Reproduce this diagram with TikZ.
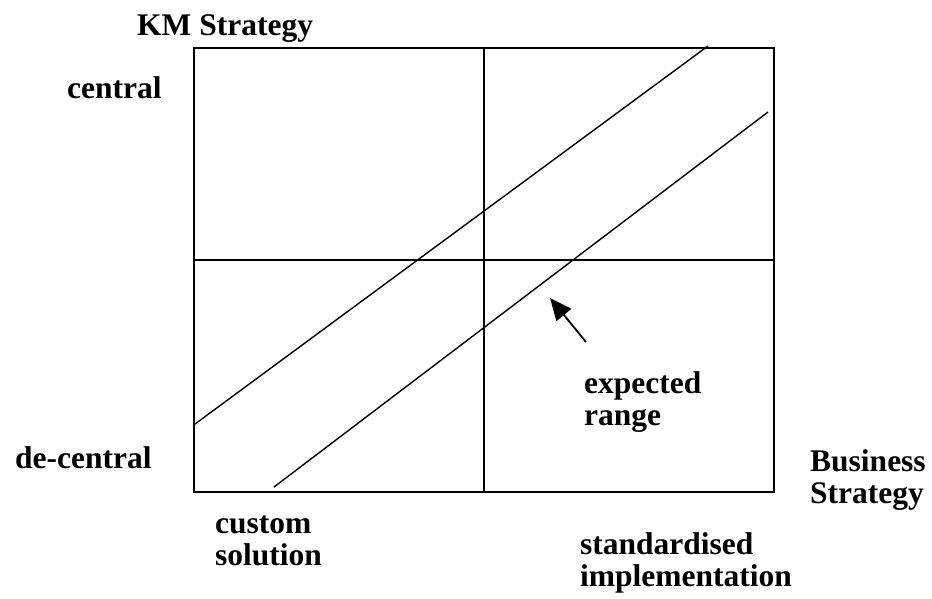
\documentclass[tikz,border=0pt]{standalone}
\usepackage{fontspec}
\setmainfont{Liberation Serif}
\usetikzlibrary{arrows.meta,positioning}

\begin{document}
\begin{tikzpicture}[x=1pt,y=-1pt,
	lbl/.style={font=\bfseries\fontsize{31.5}{32}\selectfont, inner sep=0pt, anchor=base west, align=left},
	frame/.style={line width=1.7pt},
	band/.style={line width=1.4pt}]
	\useasboundingbox (0,0) rectangle (932,599);
	
	% quadrant box and cross
	\coordinate (bl) at (194,492);
	\coordinate (tr) at (774,48);
	\draw [frame] (bl) rectangle (tr);
	\coordinate (vtop) at (484,48);
	\coordinate (vbot) at (484,492);
	\coordinate (hleft) at (194,260);
	\coordinate (hright) at (774,260);
	\draw [frame] (vtop) -- (vbot);
	\draw [frame] (hleft) -- (hright);
	
	% expected range band
	\coordinate (up1) at (195,424);
	\coordinate (up2) at (708,46);
	\coordinate (lo1) at (274,487);
	\coordinate (lo2) at (768,112);
	\draw [band] (up1) -- (up2);
	\draw [band] (lo1) -- (lo2);
	
	% % % % % % % % % % % % % % % % % % % % % % % % % %
	
	\node [lbl] (km) at (137,36) {KM Strategy};
	\node [lbl] (central) at (67,99) {central};
	\node [lbl] (decentral) at (15,468) {de-central};
	\node [lbl] (business) at (810,503) {Business\\Strategy};
	\node [lbl] (expected) at (584,425) {expected\\range};
	\node [lbl] (custom) at (215,565) {custom\\solution};
	\node [lbl] (standard) at (580,586) {standardised\\implementation};
	
	\coordinate (tail) at (586,342);
	\coordinate (tip) at (550,298);
	\draw [line width=1.8pt, -{Triangle[length=22pt,width=19pt]}] (tail) -- (tip);
\end{tikzpicture}
\end{document}
